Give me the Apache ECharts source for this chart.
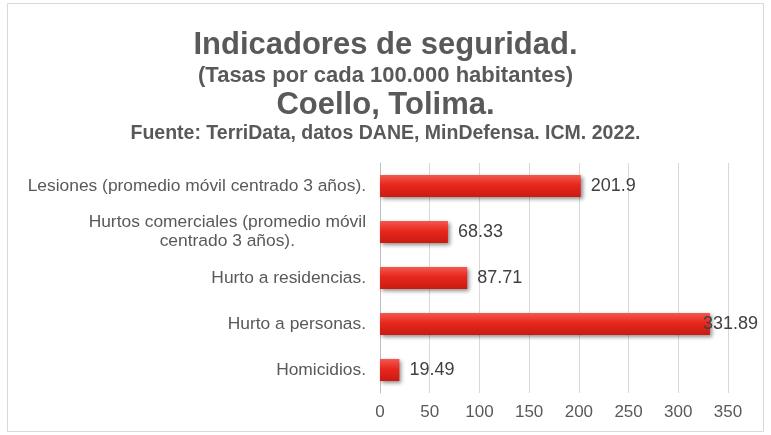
<!DOCTYPE html>
<html lang="es">
<head>
    <meta charset="UTF-8">
    <title>Indicadores de seguridad</title>
    <script src="https://cdn.jsdelivr.net/npm/echarts@6/dist/echarts.min.js"></script>
    <style>
        html, body { margin: 0; padding: 0; background: #fff; }
        #main { width: 771px; height: 435px; }
    </style>
</head>
<body>
<div id="main"></div>
<script type="text/javascript">
    // datos (de abajo hacia arriba, como los dibuja el eje de categorias)
    var categorias = [
        'Homicidios.',
        'Hurto a personas.',
        'Hurto a residencias.',
        'Hurtos comerciales (promedio móvil\ncentrado 3 años).',
        'Lesiones (promedio móvil centrado 3 años).'
    ];
    var tasas = [19.49, 331.89, 87.71, 68.33, 201.9];
    var etiquetas = ['19.49', '331.89', '87.71', '68.33', '201.9'];
    var ticksX = [0, 50, 100, 150, 200, 250, 300, 350];

    var gris = '#595959';
    var fuente = '"Liberation Sans", Arial, sans-serif';

    var myChart = echarts.init(document.getElementById('main'));

    var datos = tasas.map(function (v, i) {
        var item = { value: v };
        // la etiqueta del valor mas grande queda montada sobre el final de la barra
        if (v > 300) {
            item.label = { offset: [-17, 0] };
        }
        return item;
    });

    myChart.setOption({
        animation: false,
        textStyle: { fontFamily: fuente },
        graphic: [{
            type: 'rect',
            shape: { x: 7.5, y: 3.5, width: 756, height: 428 },
            style: { fill: '#fff', stroke: '#d9d9d9', lineWidth: 1 },
            z: -10
        }],
        title: [
            {
                text: 'Indicadores de seguridad.',
                left: 'center', top: 25,
                textStyle: { color: gris, fontSize: 31, fontWeight: 'bold', fontFamily: fuente }
            },
            {
                text: '(Tasas por cada 100.000 habitantes)',
                left: 'center', top: 60,
                textStyle: { color: gris, fontSize: 22, fontWeight: 'bold', fontFamily: fuente }
            },
            {
                text: 'Coello, Tolima.',
                left: 'center', top: 85,
                textStyle: { color: gris, fontSize: 31, fontWeight: 'bold', fontFamily: fuente }
            },
            {
                text: 'Fuente: TerriData, datos DANE, MinDefensa. ICM. 2022.',
                left: 'center', top: 119,
                textStyle: { color: gris, fontSize: 19.5, fontWeight: 'bold', fontFamily: fuente }
            }
        ],
        grid: { left: 380, right: 43, top: 163, bottom: 42, containLabel: false },
        xAxis: {
            type: 'value',
            min: ticksX[0],
            max: ticksX[ticksX.length - 1],
            interval: 50,
            axisLine: { show: false },
            axisTick: { show: false },
            axisLabel: { color: gris, fontSize: 17, margin: 11 },
            splitLine: { lineStyle: { color: '#d9d9d9', width: 1 } }
        },
        yAxis: {
            type: 'category',
            data: categorias,
            axisLine: { show: true, lineStyle: { color: '#bfbfbf' } },
            axisTick: { show: false },
            axisLabel: {
                margin: 14,
                align: 'right',
                // cada linea centrada dentro del bloque, como en Excel
                formatter: function (v) {
                    return v.split('\n').map(function (l) { return '{c|' + l + '}'; }).join('\n');
                },
                rich: {
                    c: {
                        color: gris, fontSize: 17.4, lineHeight: 19, align: 'center',
                        fontFamily: fuente
                    }
                }
            }
        },
        series: [{
            type: 'bar',
            data: datos,
            barWidth: '48%',
            itemStyle: {
                color: new echarts.graphic.LinearGradient(0, 0, 0, 1, [
                    { offset: 0, color: '#f2594f' },
                    { offset: 0.45, color: '#e8271d' },
                    { offset: 1, color: '#c91b12' }
                ]),
                shadowColor: 'rgba(0,0,0,0.45)',
                shadowBlur: 4,
                shadowOffsetX: 2,
                shadowOffsetY: 2
            },
            label: {
                show: true,
                position: 'right',
                distance: 10,
                color: '#404040',
                fontSize: 18,
                formatter: function (p) { return etiquetas[p.dataIndex]; }
            }
        }]
    });
</script>
</body>
</html>
